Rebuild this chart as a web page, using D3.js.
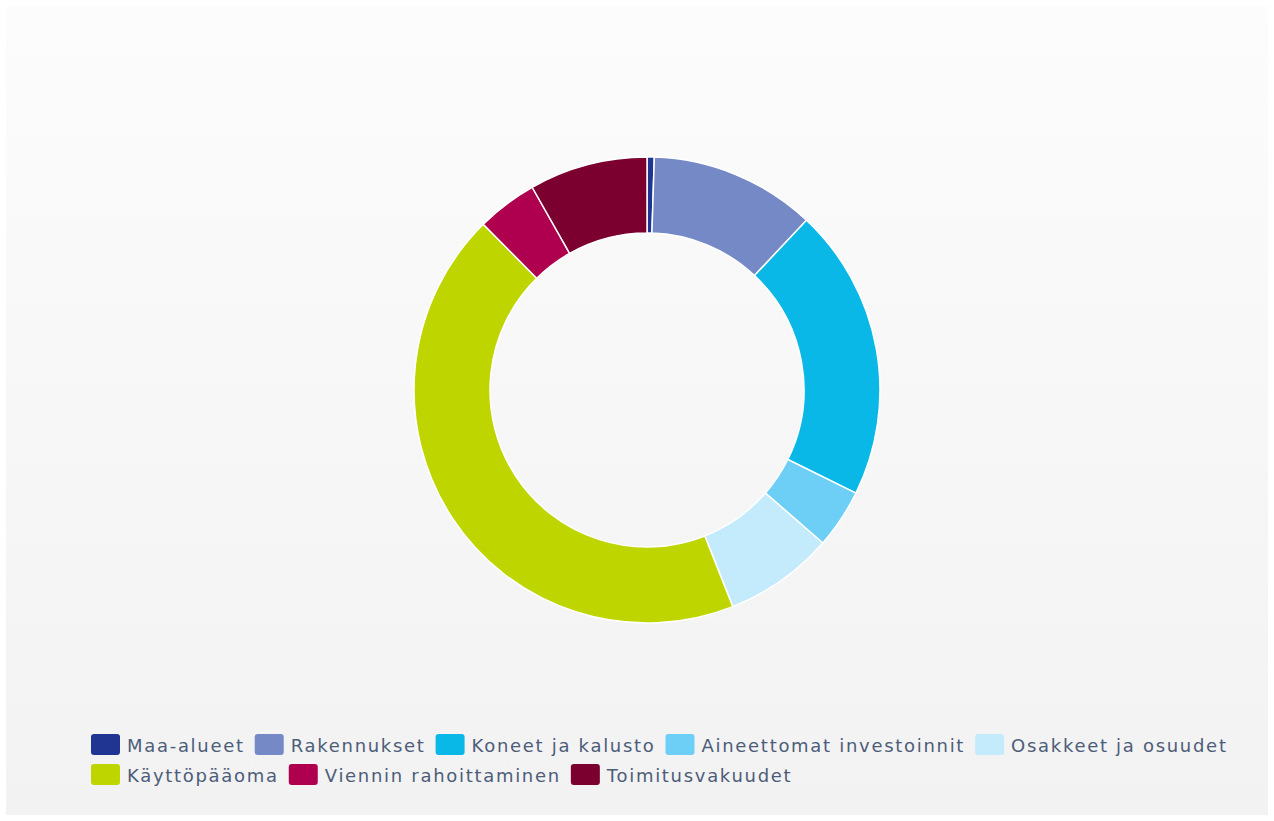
<!DOCTYPE html>
<html>
<head>
<meta charset="utf-8">
<script src="https://cdn.jsdelivr.net/npm/d3@7"></script>
<style>
  html, body { margin: 0; padding: 0; background: #ffffff; }
  svg { display: block; }
</style>
</head>
<body>
<svg id="chart"></svg>
<script>
var categories = ["Maa-alueet", "Rakennukset", "Koneet ja kalusto", "Aineettomat investoinnit",
                  "Osakkeet ja osuudet", "Käyttöpääoma", "Viennin rahoittaminen", "Toimitusvakuudet"]
var values = [0.5, 11.5, 20.3, 4.1, 7.6, 43.6, 4.2, 8.2]
var colors = ["#1f3591", "#7589c6", "#0ab8e8", "#6dcff6", "#c3ebfc", "#bed500", "#ae004f", "#7b0030"]

var dimensions = {
    width: 1274,
    height: 821,
    cx: 647,
    cy: 390,
    outer: 233,
    inner: 157
}

var dataset = categories.map((c, i) => ({name: c, value: values[i], color: colors[i]}))

var svg = d3.select("#chart")
            .attr("width", dimensions.width)
            .attr("height", dimensions.height)

var defs = svg.append("defs")
var grad = defs.append("linearGradient")
               .attr("id", "bg")
               .attr("x1", 0).attr("y1", 0).attr("x2", 0).attr("y2", 1)
grad.append("stop").attr("offset", "0%").attr("stop-color", "#fcfcfc")
grad.append("stop").attr("offset", "100%").attr("stop-color", "#f2f2f2")

svg.append("rect")
   .attr("x", 6).attr("y", 6)
   .attr("width", dimensions.width - 12)
   .attr("height", dimensions.height - 12)
   .attr("fill", "url(#bg)")

var pie = d3.pie()
            .value(d => d.value)
            .sort(null)

var arc = d3.arc()
            .innerRadius(dimensions.inner)
            .outerRadius(dimensions.outer)

svg.append("g")
   .attr("transform", `translate(${dimensions.cx},${dimensions.cy})`)
   .selectAll("path")
   .data(pie(dataset))
   .enter()
   .append("path")
   .attr("d", arc)
   .attr("fill", d => d.data.color)
   .attr("stroke", "#ffffff")
   .attr("stroke-width", 1.5)
   .attr("stroke-linejoin", "round")

// legend, flowing in rows like the original
var legend = svg.append("g")
var legendLeft = 91, legendRight = 1250, rowHeight = 30
var x = legendLeft, y = 734

dataset.forEach(function(d) {
    var item = legend.append("g")
    var label = item.append("text")
                    .attr("x", 36)
                    .attr("y", 18)
                    .style("font-family", "DejaVu Sans, sans-serif")
                    .style("font-size", "18px")
                    .style("letter-spacing", "1.7px")
                    .style("fill", "#4d5d79")
                    .text(d.name)
    var w = 36 + label.node().getComputedTextLength()
    if (x + w > legendRight) {
        x = legendLeft
        y += rowHeight
    }
    item.attr("transform", `translate(${x},${y})`)
    item.insert("rect", "text")
        .attr("x", 0).attr("y", 0)
        .attr("width", 29).attr("height", 21)
        .attr("rx", 3)
        .attr("fill", d.color)
    x += w + 10
})
</script>
</body>
</html>
